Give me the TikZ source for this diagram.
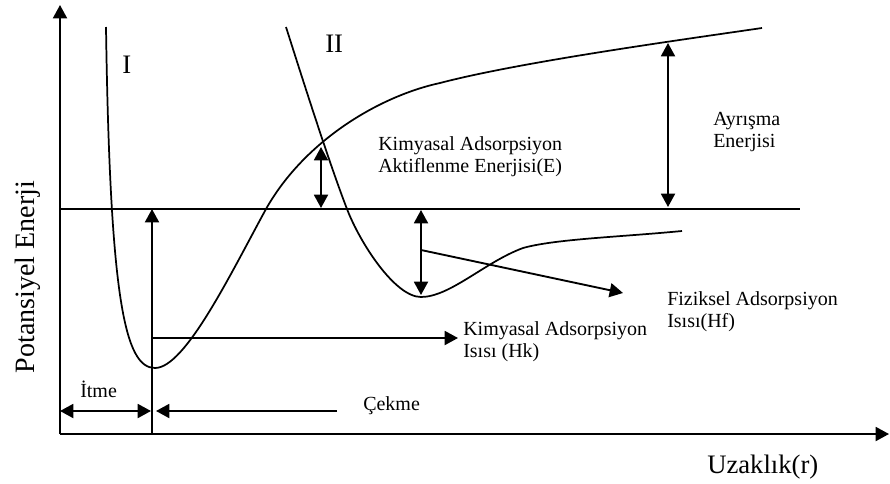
\documentclass[tikz,border=0pt]{standalone}
\usepackage{fontspec}
\setmainfont{Liberation Serif}
\usetikzlibrary{arrows.meta}
\begin{document}
\begin{tikzpicture}[x=0.75pt,y=-0.75pt,
  tri/.tip={Triangle[length=10pt,width=10.5pt]},
  tipend/.style={-tri},
  tipboth/.style={tri-tri},
  ln/.style={line width=1.4pt},
  crv/.style={line width=1.3pt},
  lbl/.style={font=\fontsize{15}{16.5}\selectfont, anchor=base west, align=left, inner sep=0pt},
  big/.style={font=\fontsize{20}{22}\selectfont, inner sep=0pt}]
\useasboundingbox (0,0) rectangle (890,483);

% axes
\coordinate (O) at (60,434);
\coordinate (Ytop) at (60,5);
\coordinate (Xend) at (889,434);
\draw[ln,tipend] (O) -- (Ytop);
\draw[ln,tipend] (O) -- (Xend);

% zero level line
\coordinate (H0) at (60,209);
\coordinate (H1) at (800,209);
\draw[ln] (H0) -- (H1);

% curve I
\draw[crv] (106,27) .. controls (110,300) and (125,368) .. (155,368)
  .. controls (185,368) and (230,275) .. (266,209)
  .. controls (305,140) and (380,96) .. (440,83)
  .. controls (520,62) and (680,40) .. (762,28);

% curve II
\draw[crv] (286,27) .. controls (306,90) and (330,165) .. (347,209)
  .. controls (360,243) and (395,297) .. (421,297)
  .. controls (450,297) and (485,262) .. (523,248)
  .. controls (555,239) and (620,237) .. (682,231);

% vertical arrow at minimum of I
\coordinate (Vb) at (152,434);
\coordinate (Vt) at (152,209);
\draw[ln,tipend] (Vb) -- (Vt);

% Hk arrow
\coordinate (Hk0) at (152,338);
\coordinate (Hk1) at (458,338);
\draw[ln,tipend] (Hk0) -- (Hk1);

% activation energy arrow
\coordinate (E0) at (321,147);
\coordinate (E1) at (321,208);
\draw[ln,tipboth] (E0) -- (E1);

% dissociation energy arrow
\coordinate (A0) at (668,43);
\coordinate (A1) at (668,207);
\draw[ln,tipboth] (A0) -- (A1);

% Hf arrow
\coordinate (F0) at (421,210);
\coordinate (F1) at (421,295);
\draw[ln,tipboth] (F0) -- (F1);
\coordinate (Fs) at (421,250);
\coordinate (Ft) at (623,293);
\draw[ln,tipend] (Fs) -- (Ft);

% Itme / Cekme
\coordinate (I0) at (60,411);
\coordinate (I1) at (151,411);
\draw[ln,tipboth] (I0) -- (I1);
\coordinate (C0) at (337,411);
\coordinate (C1) at (156,411);
\draw[ln,tipend] (C0) -- (C1);

% labels
\node[big, anchor=base west] (lI) at (122,73) {I};
\node[big, anchor=base west] (lII) at (325,52) {II};
\node[lbl] (lE) at (378,172) {Kimyasal Adsorpsiyon\\Aktiflenme Enerjisi(E)};
\node[lbl] (lA) at (713,147) {Ayrışma\\Enerjisi};
\node[lbl] (lHf) at (667,327) {Fiziksel Adsorpsiyon\\Isısı(Hf)};
\node[lbl] (lHk) at (463,357) {Kimyasal Adsorpsiyon\\Isısı (Hk)};
\node[lbl] (lIt) at (80,397) {İtme};
\node[lbl] (lC) at (363,410) {Çekme};
\node[big, anchor=base west] (lX) at (707,473) {Uzaklık(r)};
\node[font=\fontsize{21}{23}\selectfont, inner sep=0pt, rotate=90, anchor=base] (lY) at (35,277) {Potansiyel Enerji};
\end{tikzpicture}
\end{document}
